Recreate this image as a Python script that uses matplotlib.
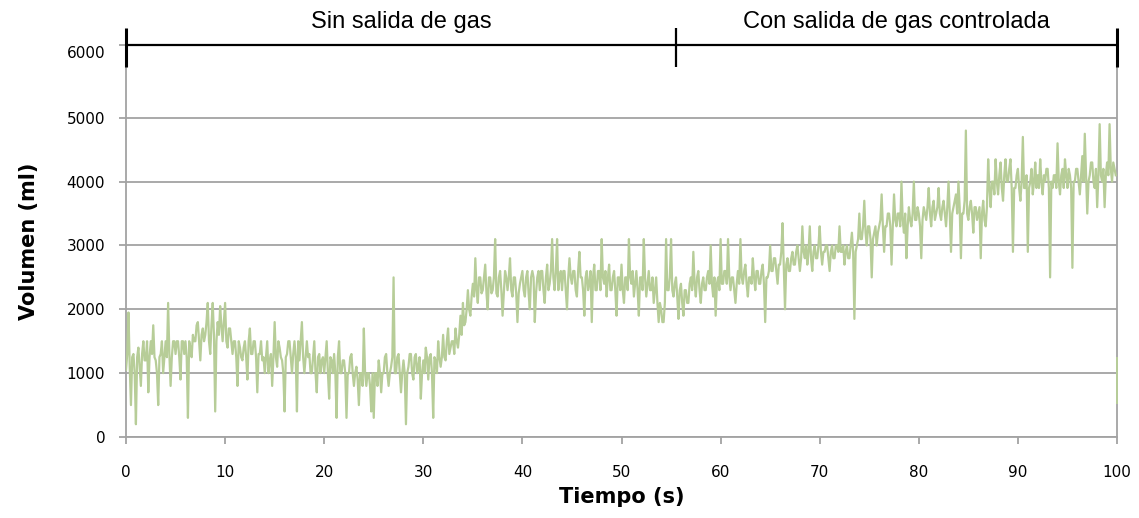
import numpy as np
import matplotlib
matplotlib.use("Agg")
import matplotlib.pyplot as plt

# Gas volume readings, sampled every 0.125 s (one row per second)
volume_ml = [
    1050, 1300, 1950, 1100, 500, 1250, 1300, 1000,
    200, 1250, 1400, 1100, 800, 1300, 1500, 1200,
    1200, 1500, 700, 1250, 1500, 1300, 1750, 1250,
    1200, 1000, 500, 1250, 1300, 1500, 1000, 1250,
    1500, 1250, 2100, 1300, 800, 1250, 1500, 1500,
    1300, 1500, 1500, 1250, 900, 1500, 1500, 1300,
    1500, 1250, 300, 1500, 1400, 1250, 1600, 1500,
    1500, 1750, 1800, 1500, 1200, 1600, 1700, 1500,
    1600, 1800, 2100, 1500, 1300, 1750, 2100, 1600,
    400, 1500, 1800, 1600, 2050, 1750, 1500, 1800,
    2100, 1500, 1400, 1700, 1700, 1500, 1300, 1500,
    1500, 1250, 800, 1500, 1400, 1250, 1200, 1400,
    1500, 1250, 900, 1500, 1700, 1300, 1300, 1500,
    1500, 1250, 700, 1300, 1300, 1500, 1200, 1250,
    1000, 1250, 1500, 1000, 1200, 1300, 800, 1250,
    1800, 1250, 1100, 1500, 1400, 1250, 1200, 1000,
    400, 1250, 1300, 1500, 1500, 1250, 1000, 1300,
    1500, 1250, 400, 1500, 1200, 1500, 1800, 1250,
    1000, 1250, 1500, 1250, 1300, 1000, 1000, 1250,
    1500, 1000, 700, 1250, 1300, 1000, 1200, 1250,
    1000, 1250, 1500, 1000, 600, 1250, 1200, 1000,
    1300, 1000, 300, 1250, 1500, 1000, 1000, 1200,
    1200, 1000, 300, 1000, 1000, 1250, 1300, 1000,
    800, 1000, 1100, 900, 500, 1000, 1000, 800,
    1700, 1000, 800, 1000, 1000, 800, 400, 1000,
    300, 1000, 1000, 800, 1200, 1000, 700, 1000,
    1000, 1250, 1300, 1000, 800, 1000, 1100, 1250,
    2500, 1000, 1000, 1250, 1300, 1000, 700, 1000,
    1200, 1000, 200, 1000, 1100, 1300, 1300, 1000,
    900, 1250, 1300, 1000, 1100, 1250, 600, 1000,
    1200, 1000, 1400, 1250, 900, 1250, 1300, 1000,
    300, 1250, 1200, 1000, 1500, 1250, 1100, 1250,
    1600, 1250, 1200, 1500, 1700, 1300, 1400, 1500,
    1500, 1300, 1700, 1500, 1400, 1600, 1900, 1600,
    2100, 1750, 1800, 2000, 2300, 2000, 1900, 2200,
    2400, 2200, 2800, 2300, 2100, 2500, 2500, 2250,
    2300, 2500, 2700, 2250, 2000, 2500, 2500, 2250,
    2300, 2500, 3100, 2250, 2200, 2500, 2600, 2300,
    1900, 2250, 2600, 2500, 2300, 2500, 2800, 2300,
    2200, 2500, 2500, 2250, 1800, 2250, 2400, 2500,
    2600, 2300, 2200, 2500, 2600, 2250, 2000, 2500,
    2600, 2500, 1800, 2250, 2500, 2600, 2300, 2600,
    2600, 2300, 2100, 2500, 2700, 2300, 2400, 2600,
    3100, 2500, 2300, 2600, 3100, 2300, 2500, 2600,
    2300, 2600, 2600, 2300, 2000, 2500, 2800, 2500,
    2400, 2600, 2600, 2300, 2200, 2600, 2900, 2500,
    2500, 2300, 1900, 2500, 2600, 2300, 2400, 2600,
    1800, 2500, 2700, 2300, 2300, 2600, 2600, 2300,
    3100, 2500, 2400, 2600, 2200, 2500, 2700, 2300,
    2300, 2500, 2600, 2300, 1900, 2500, 2500, 2300,
    2700, 2300, 2100, 2500, 2500, 2300, 3100, 2500,
    2400, 2600, 2200, 2400, 2600, 2300, 1900, 2500,
    2500, 2300, 3100, 2500, 2200, 2400, 2600, 2300,
    2300, 2500, 2100, 2300, 2500, 2100, 1800, 2100,
    2000, 1800, 1800, 2100, 3100, 2300, 2300, 2500,
    3100, 2300, 2200, 2400, 2500, 2200, 1850, 2300,
    2400, 2100, 1900, 2300, 2300, 2100, 2100, 2400,
    2500, 2300, 2900, 2400, 2200, 2500, 2600, 2300,
    2100, 2400, 2500, 2300, 2300, 2500, 2600, 2400,
    3000, 2400, 2200, 2500, 1900, 2400, 2500, 2300,
    3100, 2400, 2400, 2600, 2600, 2400, 3100, 2500,
    2300, 2500, 2500, 2300, 2100, 2400, 2600, 2400,
    3100, 2500, 2400, 2600, 2700, 2400, 2200, 2500,
    2500, 2400, 2800, 2500, 2300, 2600, 2600, 2400,
    2400, 2600, 2700, 2400, 1800, 2500, 2500, 2600,
    3000, 2600, 2600, 2800, 2800, 2600, 2400, 2700,
    2700, 2900, 3350, 2700, 2000, 2700, 2800, 2600,
    2600, 2800, 2900, 2700, 2700, 2900, 3000, 2800,
    2600, 2800, 3300, 2900, 2800, 3000, 2700, 2900,
    3300, 2800, 2600, 2900, 3000, 2800, 2800, 3000,
    3300, 2900, 2700, 2900, 2900, 3000, 3000, 2800,
    2600, 2900, 3000, 2800, 2800, 3000, 3000, 2900,
    3300, 2900, 2900, 3000, 2700, 2900, 3000, 2800,
    2800, 3000, 3200, 2900, 1850, 2900, 3000, 3100,
    3500, 3100, 3100, 3300, 3700, 3200, 3000, 3300,
    3300, 3100, 2500, 3100, 3200, 3300, 3000, 3200,
    3300, 3400, 3800, 3300, 2900, 3300, 3300, 3500,
    3500, 3300, 2700, 3300, 3800, 3400, 3300, 3500,
    3500, 3300, 4000, 3400, 3200, 3500, 2800, 3300,
    3600, 3400, 3300, 3500, 4000, 3400, 3400, 3600,
    3500, 3300, 2800, 3400, 3600, 3500, 3400, 3600,
    3900, 3500, 3300, 3600, 3700, 3400, 3500, 3600,
    3900, 3500, 3400, 3600, 3700, 3500, 3300, 3600,
    4000, 3500, 2900, 3500, 3600, 3700, 3800, 3500,
    4000, 3600, 2800, 3500, 3500, 3700, 4800, 3500,
    3400, 3600, 3700, 3500, 3200, 3600, 3600, 3400,
    3500, 3600, 2800, 3500, 3700, 3400, 3300, 3600,
    4350, 3900, 3600, 4000, 4000, 3800, 4350, 4000,
    3800, 4100, 4300, 3900, 3700, 4100, 4350, 4000,
    4000, 4200, 4350, 3900, 2900, 3900, 3900, 4100,
    4200, 3900, 3700, 4000, 4700, 3900, 3900, 4100,
    2900, 3900, 4000, 4200, 3800, 4000, 4300, 3900,
    4100, 3900, 4350, 4000, 3800, 4100, 4000, 4200,
    4200, 3900, 2500, 4000, 3900, 4100, 4100, 3900,
    4600, 4000, 3800, 4100, 4200, 3900, 4350, 4100,
    3900, 4200, 4100, 3900, 2650, 4000, 4000, 4200,
    4200, 4000, 3800, 4100, 4400, 4000, 4750, 4100,
    3500, 4000, 4100, 4300, 4300, 4000, 3900, 4200,
    3600, 4100, 4900, 4100, 4000, 4200, 3600, 4100,
    4300, 4100, 4900, 4200, 4000, 4300, 4200, 4100,
]
sample_step_s = 0.125

# Last two readings logged at t = 100 s
tail_time_s = [100, 100]
tail_volume_ml = [1230, 530]

x_ticks = [0, 10, 20, 30, 40, 50, 60, 70, 80, 90, 100]
y_ticks = [0, 1000, 2000, 3000, 4000, 5000]
phase_labels = ["Sin salida de gas", "Con salida de gas controlada"]
phase_bounds = [0, 55.5, 100]

time_s = np.arange(len(volume_ml)) * sample_step_s

line_color = "#b7cd98"
grid_color = "#a3a3a3"

fig = plt.figure(figsize=(11.39, 5.18), dpi=100)
ax = fig.add_axes([126 / 1139, 1 - 437 / 518, (1117 - 126) / 1139, (437 - 45) / 518])

y_top = 6140
ax.set_xlim(0, 100)
ax.set_ylim(0, y_top)

ax.plot(time_s, volume_ml, color=line_color, lw=1.6, zorder=3)
ax.plot(tail_time_s, tail_volume_ml, color=line_color, lw=1.4, zorder=3, clip_on=False)

# Axes styling
for side in ["left", "bottom", "right"]:
    ax.spines[side].set_color(grid_color)
    ax.spines[side].set_linewidth(1.3)
ax.spines["top"].set_visible(False)

ax.set_xticks(x_ticks)
ax.set_xticklabels([str(v) for v in x_ticks])
ax.set_yticks(y_ticks + [y_top])
ax.set_yticklabels([str(v) for v in y_ticks] + [""])
ax.tick_params(axis="both", colors=grid_color, labelcolor="black", labelsize=11,
               length=5, width=1.3, direction="out")
ax.tick_params(axis="y", pad=10)
ax.tick_params(axis="x", pad=15)
ax.grid(axis="y", color=grid_color, lw=1.3, zorder=1)
ax.set_axisbelow(True)

# The 6000 label sits on its data value just below the top edge
ax.annotate("6000", xy=(0, 6000), xycoords=("axes fraction", "data"),
            xytext=(-15, 0), textcoords="offset points",
            ha="right", va="center", fontsize=11, color="black")

ax.set_xlabel("Tiempo (s)", fontsize=15, fontweight="bold", labelpad=5)
ax.set_ylabel("Volumen (ml)", fontsize=15, fontweight="bold", labelpad=20)

# Phase brackets along the top edge
ax.plot([phase_bounds[0], phase_bounds[-1]], [y_top, y_top], color="black", lw=1.6,
        clip_on=False, zorder=5, solid_capstyle="butt")
for i, xb in enumerate(phase_bounds):
    ax.plot([xb, xb], [5799, 6411], color="black", lw=2.2 if i != 1 else 1.6,
            clip_on=False, zorder=5, solid_capstyle="butt")

label_font = ["Liberation Sans", "DejaVu Sans"]
for label, x0, x1 in zip(phase_labels, phase_bounds[:-1], phase_bounds[1:]):
    ax.text((x0 + x1) / 2, 6505, label, ha="center", va="center", fontsize=17,
            family=label_font, color="black", clip_on=False)

fig.savefig("out.png", dpi=100)
